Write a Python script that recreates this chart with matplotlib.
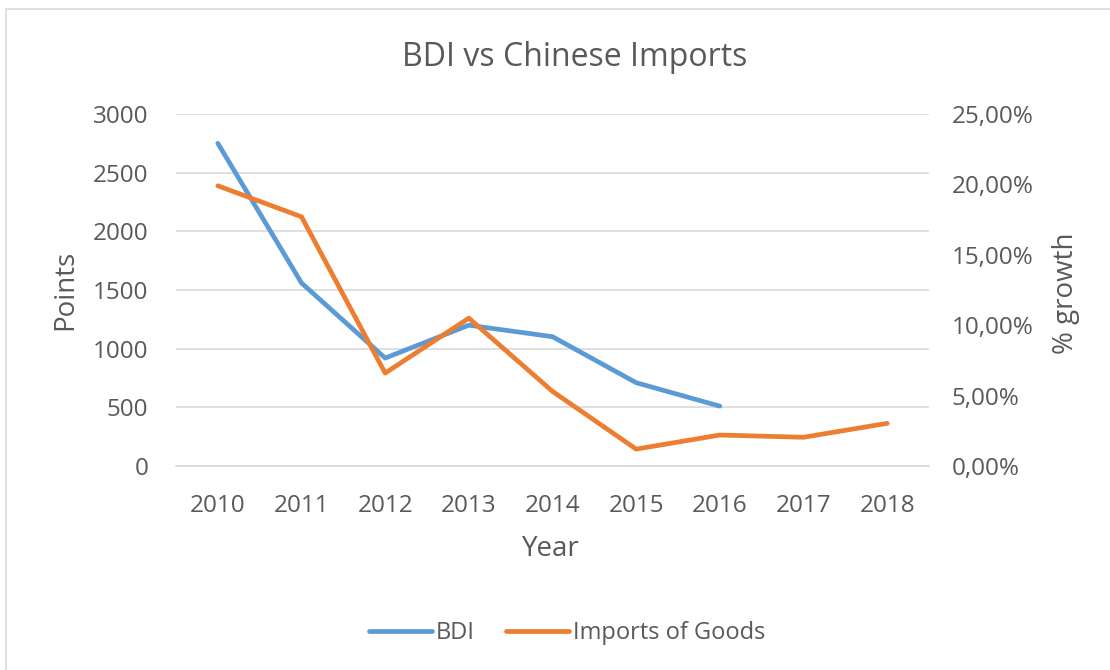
import matplotlib
matplotlib.use("Agg")
import matplotlib.pyplot as plt
from matplotlib.ticker import FuncFormatter
from matplotlib.patches import Rectangle

years = ["2010", "2011", "2012", "2013", "2014", "2015", "2016", "2017", "2018"]
bdi = [2750, 1560, 920, 1200, 1102, 710, 510]
imports_growth = [0.199, 0.177, 0.066, 0.105, 0.053, 0.012, 0.022, 0.0204, 0.0303]
left_ticks = [0, 500, 1000, 1500, 2000, 2500, 3000]
right_ticks = [0.0, 0.05, 0.10, 0.15, 0.20, 0.25]

BLUE = "#5B9BD5"
ORANGE = "#ED7D31"
TXT = "#595959"
GRID = "#D9D9D9"

plt.rcParams['font.family'] = ['Open Sans', 'DejaVu Sans']

fig = plt.figure(figsize=(11.1, 6.7), dpi=100)
W, H = 1110, 670
ax = fig.add_axes([176 / W, 1 - 466 / H, (929 - 176) / W, (466 - 114) / H])
ax2 = ax.twinx()

x = list(range(len(years)))
l1, = ax.plot(x[:len(bdi)], bdi, color=BLUE, lw=3.4, solid_capstyle='round', solid_joinstyle='round', label="BDI")
l2, = ax2.plot(x, imports_growth, color=ORANGE, lw=3.4, solid_capstyle='round', solid_joinstyle='round', label="Imports of Goods")

ax.set_xlim(-0.5, len(years) - 0.5)
ax.set_ylim(0, 3000)
ax2.set_ylim(0, 0.25)
ax.set_yticks(left_ticks)
ax2.set_yticks(right_ticks)
ax2.yaxis.set_major_formatter(FuncFormatter(lambda v, p: f"{v*100:.2f}%".replace(".", ",")))
ax.set_xticks(x)
ax.set_xticklabels(years)

ax.grid(axis='y', color=GRID, lw=1.2)
ax.set_axisbelow(True)
for a in (ax, ax2):
    for s in a.spines.values():
        s.set_visible(False)
    a.tick_params(length=0, labelsize=17.5, labelcolor=TXT)
ax.tick_params(axis='y', pad=20)
ax2.tick_params(axis='y', pad=16.5)
ax.tick_params(axis='x', pad=20)
ax.spines['bottom'].set_visible(True)
ax.spines['bottom'].set_color(GRID)
ax.spines['bottom'].set_linewidth(1.2)

fig.text(551 / W, 1 - 549 / H, "Year", ha='center', va='center', fontsize=20, color=TXT)
fig.text(65 / W, 1 - 290 / H, "Points", ha='center', va='center', fontsize=20, color=TXT, rotation=90)
fig.text(1066 / W, 1 - 293 / H, "% growth", ha='center', va='center', fontsize=20, color=TXT, rotation=90)

fig.text(575 / W, 1 - 57 / H, "BDI vs Chinese Imports", ha='center', va='center', fontsize=23, color=TXT)

fig.legend(handles=[l1, l2], loc='center', bbox_to_anchor=(567 / W, 1 - 633 / H), ncol=2,
           frameon=False, fontsize=17, labelcolor=TXT, handlelength=2.7, handletextpad=0.15,
           columnspacing=1.3)

fig.patches.append(Rectangle((6 / W, -0.05), 1.2, 1 - 9 / H + 0.05, transform=fig.transFigure,
                             fill=False, edgecolor="#D9D9D9", lw=1.2))

fig.savefig("out.png", dpi=100)
